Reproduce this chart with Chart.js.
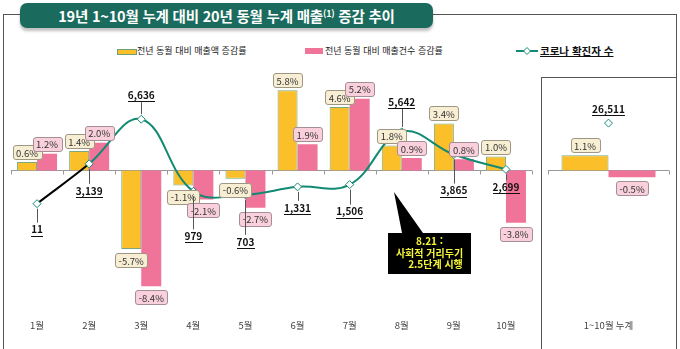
<!DOCTYPE html>
<html lang="ko">
<head>
<meta charset="utf-8">
<script src="https://cdn.jsdelivr.net/npm/chart.js@4.4.1/dist/chart.umd.min.js"></script>
<style>
  body { margin: 0; background: #fff; font-family: "Noto Sans CJK KR", sans-serif; }
  #wrap { position: relative; width: 680px; height: 349px; overflow: hidden; }
  .ln { position: absolute; background: #555; }
  #title {
    position: absolute; left: 20px; top: 3px; width: 413px; height: 25px;
    background: #1a6b5d; border-radius: 7px; box-shadow: 0 3px 3px rgba(0,0,0,.25);
    color: #fff; font-weight: bold; font-size: 14.5px; line-height: 25px; text-align: center;
    letter-spacing: -0.2px;
  }
  #title sup { font-size: 9px; vertical-align: 5px; line-height: 0; }
  .lg { position: absolute; top: 44px; font-size: 9px; color: #222; line-height: 14px; white-space: nowrap; }
  .sw { position: absolute; top: 49px; width: 18px; height: 4px; }
  #callout { position: absolute; left: 0; top: 0; }
  #callText {
    position: absolute; left: 388px; top: 235px; width: 83px; color: #f5f53a;
    font-size: 10px; font-weight: bold; line-height: 11.5px; text-align: center; white-space: nowrap;
  }
  canvas { position: absolute; top: 0; }
</style>
</head>
<body>
<div id="wrap">
  <!-- frame -->
  <div class="ln" style="left:3px;top:14px;width:17px;height:1px"></div>
  <div class="ln" style="left:433px;top:14px;width:244px;height:1px"></div>
  <div class="ln" style="left:3px;top:14px;width:1px;height:335px"></div>
  <div class="ln" style="left:676px;top:14px;width:1px;height:335px"></div>
  <div class="ln" style="left:541px;top:77px;width:136px;height:1px"></div>
  <div class="ln" style="left:541px;top:77px;width:1px;height:272px"></div>

  <div id="title">19년 1~10월 누계 대비 20년 동월 누계 매출<sup>(1)</sup> 증감 추이</div>

  <!-- legend -->
  <div class="sw" style="left:117px;background:#fbbf2a;border:1px solid #6f9f72"></div>
  <div class="lg" style="left:137px">전년 동월 대비 매출액 증감률</div>
  <div class="sw" style="left:305px;top:48px;height:6px;background:#f07399"></div>
  <div class="lg" style="left:325px">전년 동월 대비 매출건수 증감률</div>
  <svg style="position:absolute;left:515px;top:45px" width="24" height="12">
    <line x1="1" y1="6" x2="23" y2="6" stroke="#138a73" stroke-width="2"/>
    <polygon points="12,2.5 15.5,6 12,9.5 8.5,6" fill="#fff" stroke="#138a73" stroke-width="1"/>
  </svg>
  <div class="lg" style="left:540px;font-size:10.5px;font-weight:bold;text-decoration:underline;color:#111">코로나 확진자 수</div>

  <canvas id="mainChart" width="540" height="349" style="left:0"></canvas>
  <canvas id="totalChart" width="135" height="349" style="left:541px"></canvas>

  <!-- 8월 callout -->
  <svg id="callout" width="680" height="349">
    <polygon points="394,192 423,233 471,233 471,274 388,274 388,233 402,233" fill="#000"/>
  </svg>
  <div id="callText">8.21 :<br>사회적 거리두기<br><span style="padding-left:12px">2.5단계 시행</span></div>
</div>

<script>
const months = ['1월', '2월', '3월', '4월', '5월', '6월', '7월', '8월', '9월', '10월'];
const salesAmountChange = [0.6, 1.4, -5.7, -1.1, -0.6, 5.8, 4.6, 1.8, 3.4, 1.0];
const salesCountChange = [1.2, 2.0, -8.4, -2.1, -2.7, 1.9, 5.2, 0.9, 0.8, -3.8];
const covidCases = [11, 3139, 6636, 979, 703, 1331, 1506, 5642, 3865, 2699];

const totalLabels = ['1~10월 누계'];
const totalAmountChange = [1.1];
const totalCountChange = [-0.5];
const totalCovidCases = [26511];

const YELLOW = '#fbbf2a';
const PINK = '#f07399';
const TEAL = '#138a73';
const AXIS = '#999';
const FONT = '"Noto Sans CJK KR", sans-serif';

function drawBox(ctx, cx, cy, text, fill, stroke) {
  ctx.font = '9.5px ' + FONT;
  const w = ctx.measureText(text).width + 7;
  const h = 14;
  ctx.beginPath();
  ctx.roundRect(Math.round(cx - w / 2) + 0.5, Math.round(cy - h / 2) + 0.5, Math.round(w), h, 2.5);
  ctx.fillStyle = fill;
  ctx.fill();
  ctx.lineWidth = 1;
  ctx.strokeStyle = stroke;
  ctx.stroke();
  ctx.fillStyle = '#333';
  ctx.textAlign = 'center';
  ctx.textBaseline = 'middle';
  ctx.fillText(text, cx, cy + 1);
}

// 0선 + 구간 경계 눈금
const zeroAxis = {
  id: 'zeroAxis',
  beforeDatasetsDraw(chart) {
    const ctx = chart.ctx, xs = chart.scales.x;
    const y0 = Math.round(chart.scales.y.getPixelForValue(0)) + 0.5;
    ctx.save();
    ctx.strokeStyle = AXIS;
    ctx.lineWidth = 1;
    ctx.beginPath();
    ctx.moveTo(xs.left, y0);
    ctx.lineTo(xs.right, y0);
    for (let i = 0; i <= chart.data.labels.length; i++) {
      const x = Math.round(xs.getPixelForValue(i - 0.5)) + 0.5;
      ctx.moveTo(x, y0);
      ctx.lineTo(x, y0 + 4);
    }
    ctx.stroke();
    ctx.restore();
  }
};

// 막대 라벨(상자) + 확진자 수 라벨(밑줄, 지시선)
const valueLabels = {
  id: 'valueLabels',
  afterDraw(chart, args, opts) {
    const ctx = chart.ctx;
    ctx.save();
    chart.data.datasets.forEach((ds, di) => {
      if (ds.type === 'line') return;
      chart.getDatasetMeta(di).data.forEach((el, i) => {
        const v = ds.data[i];
        const cy = v >= 0 ? el.y - 10 : el.y + 11;
        drawBox(ctx, el.x, cy, v.toFixed(1) + '%', ds.labelFill, ds.labelStroke);
      });
    });
    chart.data.datasets.forEach((ds, di) => {
      if (ds.type !== 'line') return;
      chart.getDatasetMeta(di).data.forEach((el, i) => {
        const dy = opts.lineDy[i];
        const ly = el.y + dy;
        const dir = Math.sign(dy);
        const a = el.y + dir * 5;
        const b = ly - dir * 7;
        if ((b - a) * dir > 2) {
          ctx.beginPath();
          ctx.moveTo(Math.round(el.x) + 0.5, a);
          ctx.lineTo(Math.round(el.x) + 0.5, b);
          ctx.lineWidth = 1;
          ctx.strokeStyle = '#555';
          ctx.stroke();
        }
        const txt = ds.data[i].toLocaleString('en-US');
        ctx.font = '600 10px ' + FONT;
        ctx.fillStyle = '#111';
        ctx.textAlign = 'center';
        ctx.textBaseline = 'middle';
        ctx.fillText(txt, el.x, ly);
        const w = ctx.measureText(txt).width;
        ctx.fillRect(Math.round(el.x - w / 2), Math.round(ly + 6), Math.round(w), 1);
      });
    });
    ctx.restore();
  }
};

function barSet(label, data, color, fill, stroke, border) {
  return {
    type: 'bar', label, data, order: 1,
    backgroundColor: color,
    borderColor: border || color,
    borderWidth: border ? 1 : 0,
    labelFill: fill, labelStroke: stroke
  };
}

function lineSet(data) {
  return {
    type: 'line', label: '코로나 확진자 수', data, yAxisID: 'y2', order: 0,
    borderColor: TEAL, borderWidth: 2, tension: 0.4,
    segment: { borderColor: c => c.p0DataIndex === 0 ? '#000' : TEAL },
    pointStyle: 'rectRot', pointRadius: 4, pointBackgroundColor: '#fff',
    pointBorderColor: TEAL, pointBorderWidth: 1
  };
}

function makeOptions(catPct, y2min, y2max, pad, lineDy) {
  return {
    responsive: false,
    animation: false,
    layout: { padding: pad },
    datasets: { bar: { categoryPercentage: catPct, barPercentage: 1 } },
    plugins: { legend: { display: false }, tooltip: { enabled: false }, valueLabels: { lineDy } },
    scales: {
      x: {
        grid: { display: false }, border: { display: false },
        ticks: { padding: 17, color: '#444', font: { size: 9.5, family: FONT } }
      },
      y: { display: false, min: -9, max: 8 },
      y2: { display: false, min: y2min, max: y2max }
    }
  };
}

new Chart(document.getElementById('mainChart'), {
  data: {
    labels: months,
    datasets: [
      lineSet(covidCases),
      barSet('전년 동월 대비 매출액 증감률', salesAmountChange, YELLOW, '#f7eed3', '#9e9783', '#79a97b'),
      barSet('전년 동월 대비 매출건수 증감률', salesCountChange, PINK, '#f9d0dc', '#a48f96')
    ]
  },
  options: makeOptions(0.768, -7120, 11280, { left: 11, right: 8, top: 60, bottom: 1 },
    [26, 27, -24, 45, 47, 21, 27, -30, 36, 18]),
  plugins: [zeroAxis, valueLabels]
});

new Chart(document.getElementById('totalChart'), {
  data: {
    labels: totalLabels,
    datasets: [
      lineSet(totalCovidCases),
      barSet('전년 동월 대비 매출액 증감률', totalAmountChange, YELLOW, '#f7eed3', '#9e9783', '#79a97b'),
      barSet('전년 동월 대비 매출건수 증감률', totalCountChange, PINK, '#f9d0dc', '#a48f96')
    ]
  },
  options: makeOptions(0.777, 0, 36270, { left: 7, right: 7, top: 60, bottom: 1 }, [-14]),
  plugins: [zeroAxis, valueLabels]
});
</script>
</body>
</html>
